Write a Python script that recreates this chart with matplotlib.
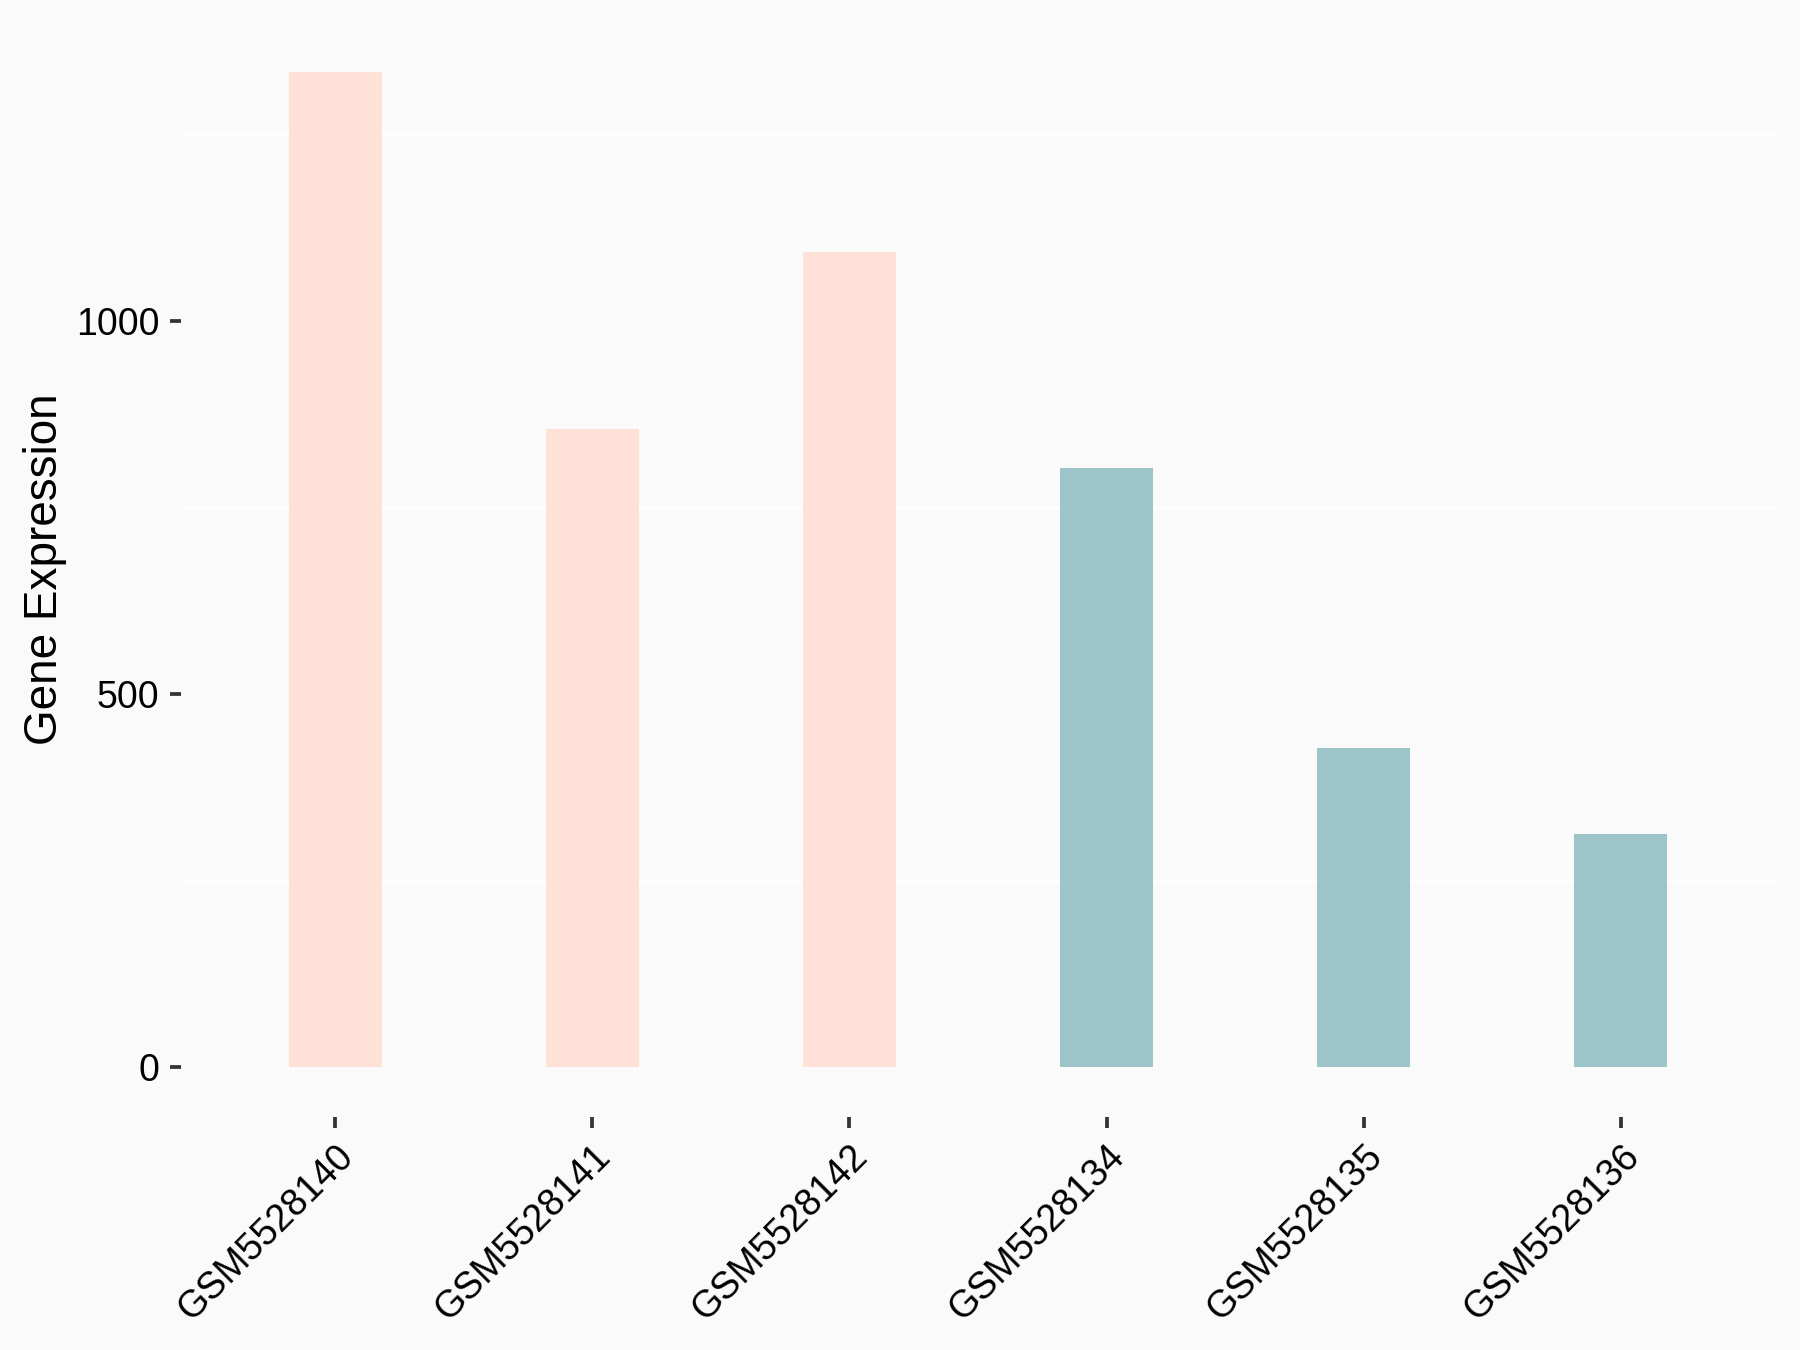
import matplotlib.pyplot as plt
from matplotlib.ticker import MultipleLocator

# sample expression values
samples = ['GSM5528140', 'GSM5528141', 'GSM5528142',
           'GSM5528134', 'GSM5528135', 'GSM5528136']
expression = [1334, 855, 1092, 803, 428, 312]
groups = ['A', 'A', 'A', 'B', 'B', 'B']
group_colors = {'A': '#FFE1D7', 'B': '#9DC4C8'}

plt.rcParams['font.family'] = ['Liberation Sans', 'DejaVu Sans']

fig = plt.figure(figsize=(6, 4.5), dpi=300, facecolor='#FAFAFA')
ax = fig.add_axes([0.1006, 0.1726, 0.8855, 0.8111])
ax.set_facecolor('#FAFAFA')

x = range(len(samples))
ax.bar(x, expression, width=0.36, color=[group_colors[g] for g in groups],
       zorder=2)

ymax = max(expression)
ax.set_ylim(-0.05 * ymax, 1.05 * ymax)
ax.set_xlim(-0.6, len(samples) - 0.4)

ax.yaxis.set_major_locator(MultipleLocator(500))
ax.yaxis.set_minor_locator(MultipleLocator(250))
ax.grid(which='minor', axis='y', color='white', linewidth=0.6, zorder=1)
ax.grid(which='major', visible=False)
ax.tick_params(axis='y', which='minor', length=0)

for s in ax.spines.values():
    s.set_visible(False)

ax.set_xticks(list(x))
ax.set_xticklabels(samples, rotation=45, ha='right', rotation_mode='anchor',
                   fontsize=9, color='black')
ax.tick_params(axis='both', which='major', length=2.75, width=0.9,
               color='#333333', pad=2.5, labelsize=9, labelcolor='black')
ax.set_ylabel('Gene Expression', fontsize=11, labelpad=2)

fig.savefig('out.png', dpi=300, facecolor=fig.get_facecolor())
